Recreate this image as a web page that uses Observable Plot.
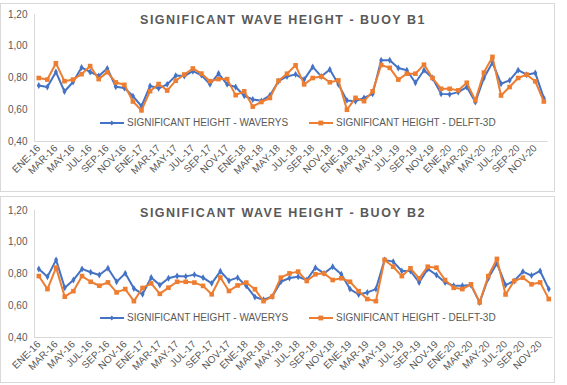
<!DOCTYPE html>
<html><head><meta charset="utf-8">
<script src="https://cdn.jsdelivr.net/npm/d3@7"></script>
<script src="https://cdn.jsdelivr.net/npm/@observablehq/plot@0.6"></script>
<style>
body{margin:0;background:#fff;font-family:"Liberation Sans",Arial,sans-serif;}
#wrap{position:relative;width:567px;height:385px;overflow:hidden;background:#fff;}
.box{position:absolute;border:1px solid #d9d9d9;box-sizing:border-box;}
.chart{position:absolute;left:0;}
.title{position:absolute;left:0;width:566px;text-align:center;font-weight:bold;font-size:12.5px;letter-spacing:1.5px;color:#595959;line-height:14px;}
.leg{position:absolute;font-size:10px;color:#595959;white-space:nowrap;line-height:12px;display:flex;align-items:center;}
.leg svg{margin-right:3px;}
</style></head>
<body><div id="wrap"></div>
<script>
const monthNames = ["ENE","FEB","MAR","ABR","MAY","JUN","JUL","AGO","SEP","OCT","NOV","DIC"];
const years = ["16","17","18","19","20"];
const labels = years.flatMap(y => monthNames.map(m => m + "-" + y));
const yTicks = [0.4, 0.6, 0.8, 1.0, 1.2];
const seriesNames = ["SIGNIFICANT HEIGHT - WAVERYS", "SIGNIFICANT HEIGHT - DELFT-3D"];
const titles = ["SIGNIFICANT WAVE HEIGHT - BUOY B1", "SIGNIFICANT WAVE HEIGHT - BUOY B2"];

const b1Waverys = [0.753,0.743,0.838,0.715,0.775,0.866,0.838,0.813,0.86,0.745,0.737,0.686,
  0.622,0.75,0.735,0.76,0.815,0.812,0.843,0.818,0.76,0.828,0.76,0.743,
  0.688,0.665,0.656,0.69,0.78,0.81,0.823,0.79,0.87,0.81,0.853,0.76,
  0.659,0.654,0.675,0.70,0.912,0.912,0.863,0.849,0.77,0.849,0.80,0.70,
  0.697,0.711,0.743,0.648,0.80,0.897,0.764,0.785,0.849,0.821,0.832,0.673];
const b1Delft = [0.80,0.79,0.893,0.78,0.79,0.824,0.875,0.793,0.837,0.772,0.757,0.652,
  0.596,0.717,0.762,0.721,0.783,0.822,0.86,0.828,0.78,0.793,0.793,0.692,
  0.716,0.62,0.649,0.674,0.783,0.827,0.88,0.76,0.80,0.81,0.773,0.785,
  0.60,0.675,0.654,0.716,0.882,0.864,0.79,0.827,0.827,0.884,0.80,0.732,
  0.732,0.722,0.77,0.659,0.834,0.933,0.69,0.743,0.80,0.821,0.779,0.652];
const b2Waverys = [0.832,0.783,0.889,0.713,0.762,0.832,0.811,0.794,0.836,0.751,0.804,0.709,
  0.672,0.778,0.73,0.773,0.787,0.785,0.796,0.777,0.741,0.817,0.758,0.777,
  0.725,0.655,0.638,0.658,0.751,0.775,0.783,0.762,0.84,0.804,0.846,0.798,
  0.705,0.671,0.684,0.705,0.889,0.878,0.819,0.819,0.747,0.832,0.794,0.747,
  0.726,0.726,0.73,0.621,0.773,0.867,0.73,0.756,0.815,0.79,0.819,0.705];
const b2Delft = [0.787,0.705,0.84,0.657,0.692,0.787,0.751,0.726,0.747,0.684,0.705,0.629,
  0.712,0.741,0.675,0.714,0.751,0.751,0.746,0.725,0.672,0.778,0.693,0.728,
  0.746,0.704,0.629,0.657,0.777,0.804,0.815,0.756,0.798,0.804,0.762,0.773,
  0.751,0.692,0.642,0.629,0.889,0.846,0.787,0.836,0.773,0.846,0.84,0.762,
  0.713,0.705,0.735,0.621,0.787,0.895,0.671,0.756,0.777,0.735,0.747,0.642];

const BLUE = "#4472C4", ORANGE = "#ED7D31", GRAY = "#595959", LINE = "#d9d9d9";

function chart(wav, del, cfg) {
  const rows = labels.map((m, i) => ({m, wav: wav[i], del: del[i]}));
  return Plot.plot({
    width: cfg.width, height: cfg.height,
    marginLeft: 34, marginRight: cfg.mr, marginTop: cfg.mt, marginBottom: cfg.mb,
    style: {fontFamily: "Liberation Sans, Arial, sans-serif", fontSize: "10px", color: GRAY, background: "transparent"},
    x: {type: "point", domain: labels, padding: 0.5},
    y: {domain: [0.4, 1.2]},
    marks: [
      Plot.ruleY([0.4], {stroke: LINE, strokeWidth: 1}),
      Plot.frame({anchor: "left", stroke: LINE}),
      Plot.axisX({ticks: labels.filter((d, i) => i % 2 === 0), tickRotate: -45, tickSize: 0, tickPadding: 5, label: null, fill: GRAY}),
      Plot.axisY({ticks: yTicks, tickFormat: d => d.toFixed(2).replace(".", ","), tickSize: 0, tickPadding: 7, label: null, fill: GRAY}),
      Plot.line(rows, {x: "m", y: "wav", stroke: BLUE, strokeWidth: 2}),
      Plot.dot(rows, {x: "m", y: "wav", symbol: "diamond", r: 2.1, fill: BLUE, stroke: null}),
      Plot.line(rows, {x: "m", y: "del", stroke: ORANGE, strokeWidth: 2}),
      Plot.dot(rows, {x: "m", y: "del", symbol: "square", r: 2.6, fill: ORANGE, stroke: null})
    ]
  });
}

const wrap = document.getElementById("wrap");
function add(html) { const d = document.createElement("div"); d.innerHTML = html; const el = d.firstElementChild; wrap.appendChild(el); return el; }

add('<div class="box" style="left:0;top:3px;width:555px;height:189px"></div>');
add('<div class="box" style="left:0;top:196px;width:555px;height:187px"></div>');

const c1 = chart(b1Waverys, b1Delft, {width: 554, height: 190, mr: 6.4, mt: 14, mb: 49});
c1.classList.add("chart"); c1.style.top = "0px"; wrap.appendChild(c1);
const c2 = chart(b2Waverys, b2Delft, {width: 554, height: 188, mr: 1.4, mt: 15, mb: 46});
c2.classList.add("chart"); c2.style.top = "195px"; wrap.appendChild(c2);

add(`<div class="title" style="top:13px">${titles[0]}</div>`);
add(`<div class="title" style="top:206px">${titles[1]}</div>`);

function swatch(color, sym) {
  const m = sym === "square"
    ? `<rect x="9.4" y="2.6" width="4.8" height="4.8" fill="${color}"/>`
    : `<path d="M11.8,2.6 L14,5 L11.8,7.4 L9.6,5 Z" fill="${color}"/>`;
  return `<svg width="24" height="10"><line x1="0" x2="24" y1="5" y2="5" stroke="${color}" stroke-width="2"/>${m}</svg>`;
}
function legend(top) {
  add(`<div class="leg" style="left:100px;top:${top}px">${swatch(BLUE, "diamond")}${seriesNames[0]}</div>`);
  add(`<div class="leg" style="left:309px;top:${top}px">${swatch(ORANGE, "square")}${seriesNames[1]}</div>`);
}
legend(117);
legend(312);
</script></body></html>
